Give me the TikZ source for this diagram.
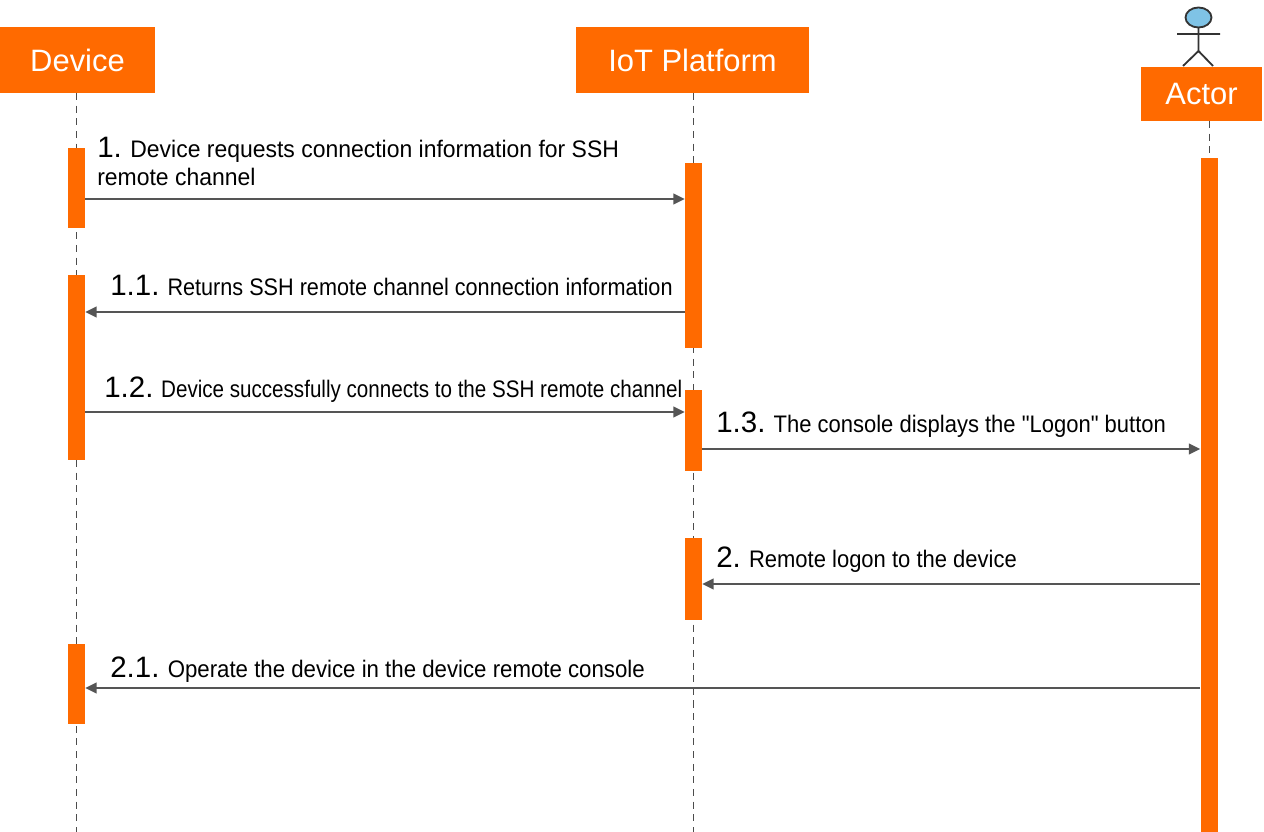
\documentclass[tikz,border=0pt]{standalone}
\usepackage{fontspec}
\setmainfont{Liberation Sans}[Ligatures=TeXOff]
\usetikzlibrary{positioning,arrows.meta}

\definecolor{aliorange}{HTML}{FF6A00}
\definecolor{msggray}{HTML}{555555}
\definecolor{headblue}{HTML}{7FC3E6}

\newcommand{\pxu}{0.025cm}
\newcommand{\stepno}[1]{{\rmfamily\fontsize{21}{21}\selectfont #1}}
\tikzstyle{header}=[fill=aliorange,text=white,inner sep=0pt,font=\fontsize{22}{22}\selectfont]
\tikzstyle{actbar}=[fill=aliorange,inner sep=0pt,minimum width={17*\pxu}]
\tikzstyle{lifeline}=[draw,thin,dashed,black!70,dash pattern=on 5pt off 4pt]
\tikzstyle{msg}=[draw,msggray,line width=1.5pt,-{Triangle[length=8pt,width=7.5pt]}]
\tikzset{msglabel/.style={anchor=base west,inner sep=0pt,align=left,
    font=\fontsize{17}{20}\selectfont\addfontfeature{FakeStretch=#1}}}

\begin{document}
\begin{tikzpicture}[x=\pxu, y=-\pxu]
    \useasboundingbox (0,0) rectangle (1264,832);
    % First we draw the lifeline heads
    \node[header, minimum width={155*\pxu}, minimum height={66*\pxu}] (device) at (77.5,60) {Device};
    \node[header, minimum width={233*\pxu}, minimum height={66*\pxu}] (iot) at (692.5,60) {IoT Platform};
    \node[header, minimum width={121*\pxu}, minimum height={54*\pxu}] (actor) at (1201.5,94) {Actor};

    % stick figure of the actor
    \draw[black!80, line width=1.3pt] (1198.5,28) -- (1198.5,51) (1177,34) -- (1220,34)
        (1183,66) -- (1198.5,51) -- (1213,66);
    \node[draw=black!80, line width=1.3pt, fill=headblue, circle, minimum size={20*\pxu},
        inner sep=0pt, xscale=1.3] (head) at (1198.5,17.5) {};

    % Dashed lifelines
    \path[lifeline] (76,93) -- (76,832);
    \path[lifeline] (693,93) -- (693,832);
    \path[lifeline] (1209,121) -- (1209,158);

    % Activation bars
    \foreach \name/\x/\top/\bot in {devA/76.5/148/228, devB/76.5/275/460, devC/76.5/644/724,
        iotA/693.5/163/348, iotB/693.5/390/471, iotC/693.5/538/620, actA/1209/158/832}
        \node[actbar, minimum height={(\bot-\top)*\pxu}] (\name) at (\x,{(\top+\bot)/2}) {};

    % Messages
    \path[msg] (devA.east |- 0,199) -- (iotA.west |- 0,199);
    \path[msg] (iotA.west |- 0,312) -- (devB.east |- 0,312);
    \path[msg] (devB.east |- 0,412) -- (iotB.west |- 0,412);
    \path[msg] (iotB.east |- 0,449) -- (actA.west |- 0,449);
    \path[msg] (actA.west |- 0,584) -- (iotC.east |- 0,584);
    \path[msg] (actA.west |- 0,688) -- (devC.east |- 0,688);

    % and their labels
    \node[msglabel=0.96] (l1) at (97,186) {\stepno{1.} Device requests connection information for SSH\\remote channel};
    \node[msglabel=0.905] (l11) at (110,296) {\stepno{1.1.} Returns SSH remote channel connection information};
    \node[msglabel=0.862] (l12) at (104,398) {\stepno{1.2.} Device successfully connects to the SSH remote channel};
    \node[msglabel=0.92] (l13) at (716,433) {\stepno{1.3.} The console displays the "Logon" button};
    \node[msglabel=0.92] (l2) at (716,568) {\stepno{2.} Remote logon to the device};
    \node[msglabel=0.93] (l21) at (110,677) {\stepno{2.1.} Operate the device in the device remote console};
\end{tikzpicture}
\end{document}
